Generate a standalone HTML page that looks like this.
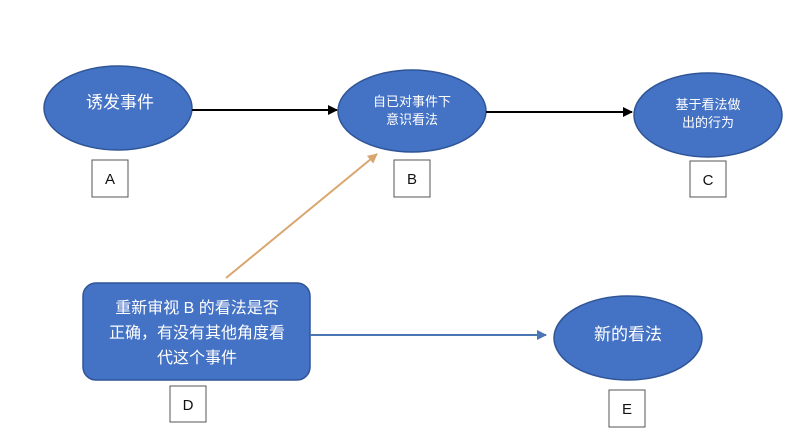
<!DOCTYPE html>
<html><head><meta charset="utf-8"><style>
html,body{margin:0;padding:0;background:#fff;}
svg{display:block;}
text{font-family:"Liberation Sans","Noto Sans CJK SC",sans-serif;}
</style></head><body>
<svg width="800" height="447" viewBox="0 0 800 447" xmlns="http://www.w3.org/2000/svg">
<defs>
<marker id="ab" markerWidth="10" markerHeight="10" refX="9" refY="5" orient="auto" markerUnits="userSpaceOnUse"><path d="M0,0 L10,5 L0,10 z" fill="#000"/></marker>
<marker id="ao" markerWidth="10" markerHeight="10" refX="9" refY="5" orient="auto" markerUnits="userSpaceOnUse"><path d="M0,0 L10,5 L0,10 z" fill="#d9a66e"/></marker>
<marker id="au" markerWidth="10" markerHeight="10" refX="9" refY="5" orient="auto" markerUnits="userSpaceOnUse"><path d="M0,0 L10,5 L0,10 z" fill="#4a77b4"/></marker>
</defs>
<g fill="#4472c4" stroke="#2f5597" stroke-width="1.5">
<ellipse cx="118" cy="108" rx="74" ry="42"/>
<ellipse cx="412" cy="111" rx="74" ry="41"/>
<ellipse cx="708" cy="115" rx="74" ry="42"/>
<ellipse cx="628" cy="338" rx="74" ry="42"/>
<rect x="83" y="283" width="227" height="97" rx="13"/>
</g>
<line x1="192" y1="110" x2="337" y2="110" stroke="#000" stroke-width="2" marker-end="url(#ab)"/>
<line x1="486" y1="112" x2="632" y2="112" stroke="#000" stroke-width="2" marker-end="url(#ab)"/>
<line x1="226" y1="278" x2="377" y2="154" stroke="#d9a66e" stroke-width="2" marker-end="url(#ao)"/>
<line x1="310" y1="335" x2="546" y2="335" stroke="#4a77b4" stroke-width="2" marker-end="url(#au)"/>
<g fill="#fff" stroke="#555" stroke-width="1">
<rect x="92" y="160" width="36" height="37"/>
<rect x="394" y="160" width="36" height="37"/>
<rect x="690" y="161" width="36" height="36"/>
<rect x="170" y="386" width="36" height="36"/>
<rect x="609" y="390" width="36" height="37"/>
</g>
<g font-size="15" text-anchor="middle" fill="#111">
<text x="110" y="184">A</text>
<text x="412" y="184">B</text>
<text x="708" y="185">C</text>
<text x="188" y="410">D</text>
<text x="627" y="414">E</text>
</g>
<g fill="#fff" text-anchor="middle">
<text x="120" y="108" font-size="17">诱发事件</text>
<text x="412" y="106" font-size="13">自已对事件下</text>
<text x="412" y="124" font-size="13">意识看法</text>
<text x="708" y="109" font-size="13">基于看法做</text>
<text x="708" y="127" font-size="13">出的行为</text>
<text x="628" y="340" font-size="17">新的看法</text>
<text x="197" y="313" font-size="16">重新审视 B 的看法是否</text>
<text x="197" y="338" font-size="16">正确，有没有其他角度看</text>
<text x="197" y="363" font-size="16">代这个事件</text>
</g>
</svg>
</body></html>
